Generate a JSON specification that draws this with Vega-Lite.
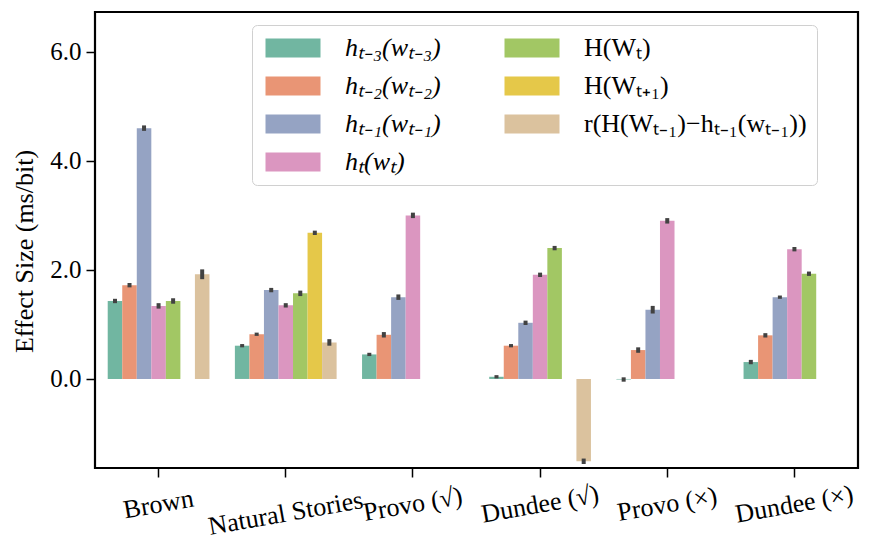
{
  "$schema": "https://vega.github.io/schema/vega-lite/v6.json",
  "width": 763,
  "height": 456,
  "autosize": {"type": "none"},
  "padding": {"left": 95, "top": 12, "right": 14, "bottom": 87},
  "config": {
    "font": "Liberation Serif",
    "view": {"stroke": "#000", "strokeWidth": 2.2},
    "axis": {
      "domain": false,
      "grid": false,
      "tickColor": "#000",
      "tickWidth": 1.5,
      "tickSize": 9,
      "labelColor": "#000",
      "labelFont": "Liberation Serif",
      "titleFont": "Liberation Serif",
      "titleColor": "#000",
      "titleFontWeight": "normal"
    }
  },
  "data": {
    "values": [
      {"corpus": "Brown", "pred": "hₜ₋₃(wₜ₋₃)", "value": 1.43, "lo": 1.39, "hi": 1.47},
      {"corpus": "Brown", "pred": "hₜ₋₂(wₜ₋₂)", "value": 1.72, "lo": 1.68, "hi": 1.76},
      {"corpus": "Brown", "pred": "hₜ₋₁(wₜ₋₁)", "value": 4.60, "lo": 4.55, "hi": 4.65},
      {"corpus": "Brown", "pred": "hₜ(wₜ)", "value": 1.34, "lo": 1.29, "hi": 1.39},
      {"corpus": "Brown", "pred": "H(Wₜ)", "value": 1.43, "lo": 1.38, "hi": 1.48},
      {"corpus": "Brown", "pred": "r(H(Wₜ₋₁)−hₜ₋₁(wₜ₋₁))", "value": 1.92, "lo": 1.83, "hi": 2.01},
      {"corpus": "Natural Stories", "pred": "hₜ₋₃(wₜ₋₃)", "value": 0.61, "lo": 0.58, "hi": 0.64},
      {"corpus": "Natural Stories", "pred": "hₜ₋₂(wₜ₋₂)", "value": 0.82, "lo": 0.79, "hi": 0.85},
      {"corpus": "Natural Stories", "pred": "hₜ₋₁(wₜ₋₁)", "value": 1.63, "lo": 1.59, "hi": 1.67},
      {"corpus": "Natural Stories", "pred": "hₜ(wₜ)", "value": 1.35, "lo": 1.31, "hi": 1.39},
      {"corpus": "Natural Stories", "pred": "H(Wₜ)", "value": 1.57, "lo": 1.52, "hi": 1.62},
      {"corpus": "Natural Stories", "pred": "H(Wₜ₊₁)", "value": 2.68, "lo": 2.64, "hi": 2.72},
      {"corpus": "Natural Stories", "pred": "r(H(Wₜ₋₁)−hₜ₋₁(wₜ₋₁))", "value": 0.67, "lo": 0.61, "hi": 0.73},
      {"corpus": "Provo (√)", "pred": "hₜ₋₃(wₜ₋₃)", "value": 0.45, "lo": 0.42, "hi": 0.48},
      {"corpus": "Provo (√)", "pred": "hₜ₋₂(wₜ₋₂)", "value": 0.81, "lo": 0.76, "hi": 0.86},
      {"corpus": "Provo (√)", "pred": "hₜ₋₁(wₜ₋₁)", "value": 1.50, "lo": 1.45, "hi": 1.55},
      {"corpus": "Provo (√)", "pred": "hₜ(wₜ)", "value": 3.00, "lo": 2.95, "hi": 3.05},
      {"corpus": "Dundee (√)", "pred": "hₜ₋₃(wₜ₋₃)", "value": 0.04, "lo": 0.01, "hi": 0.07},
      {"corpus": "Dundee (√)", "pred": "hₜ₋₂(wₜ₋₂)", "value": 0.61, "lo": 0.58, "hi": 0.64},
      {"corpus": "Dundee (√)", "pred": "hₜ₋₁(wₜ₋₁)", "value": 1.03, "lo": 0.99, "hi": 1.07},
      {"corpus": "Dundee (√)", "pred": "hₜ(wₜ)", "value": 1.91, "lo": 1.87, "hi": 1.95},
      {"corpus": "Dundee (√)", "pred": "H(Wₜ)", "value": 2.40, "lo": 2.36, "hi": 2.44},
      {"corpus": "Dundee (√)", "pred": "r(H(Wₜ₋₁)−hₜ₋₁(wₜ₋₁))", "value": -1.51, "lo": -1.56, "hi": -1.46},
      {"corpus": "Provo (×)", "pred": "hₜ₋₃(wₜ₋₃)", "value": -0.01, "lo": -0.05, "hi": 0.03},
      {"corpus": "Provo (×)", "pred": "hₜ₋₂(wₜ₋₂)", "value": 0.53, "lo": 0.48, "hi": 0.58},
      {"corpus": "Provo (×)", "pred": "hₜ₋₁(wₜ₋₁)", "value": 1.27, "lo": 1.20, "hi": 1.34},
      {"corpus": "Provo (×)", "pred": "hₜ(wₜ)", "value": 2.90, "lo": 2.85, "hi": 2.95},
      {"corpus": "Dundee (×)", "pred": "hₜ₋₃(wₜ₋₃)", "value": 0.31, "lo": 0.27, "hi": 0.35},
      {"corpus": "Dundee (×)", "pred": "hₜ₋₂(wₜ₋₂)", "value": 0.80, "lo": 0.76, "hi": 0.84},
      {"corpus": "Dundee (×)", "pred": "hₜ₋₁(wₜ₋₁)", "value": 1.50, "lo": 1.47, "hi": 1.53},
      {"corpus": "Dundee (×)", "pred": "hₜ(wₜ)", "value": 2.38, "lo": 2.34, "hi": 2.42},
      {"corpus": "Dundee (×)", "pred": "H(Wₜ)", "value": 1.93, "lo": 1.89, "hi": 1.97}
    ]
  },
  "encoding": {
    "x": {
      "field": "corpus",
      "type": "nominal",
      "sort": ["Brown", "Natural Stories", "Provo (√)", "Dundee (√)", "Provo (×)", "Dundee (×)"],
      "scale": {"paddingInner": 0.2, "paddingOuter": 0.1},
      "axis": {
        "title": null,
        "labelAngle": -10,
        "labelAlign": "center",
        "labelBaseline": "middle",
        "labelFontSize": 26,
        "labelPadding": {"condition": {"test": "datum.value == 'Natural Stories'", "value": 36}, "value": 27}
      }
    },
    "xOffset": {
      "field": "pred",
      "type": "nominal",
      "scale": {
        "domain": ["hₜ₋₃(wₜ₋₃)", "hₜ₋₂(wₜ₋₂)", "hₜ₋₁(wₜ₋₁)", "hₜ(wₜ)", "H(Wₜ)", "H(Wₜ₊₁)", "r(H(Wₜ₋₁)−hₜ₋₁(wₜ₋₁))"],
        "paddingInner": 0,
        "paddingOuter": 0
      }
    }
  },
  "layer": [
    {
      "mark": {"type": "bar"},
      "encoding": {
        "y": {
          "field": "value",
          "type": "quantitative",
          "scale": {"domain": [-1.633, 6.73], "nice": false, "zero": false},
          "axis": {
            "title": "Effect Size (ms/bit)",
            "values": [0, 2, 4, 6],
            "format": ".1f",
            "labelFontSize": 25,
            "titleFontSize": 26,
            "labelPadding": 5,
            "titlePadding": 12,
            "titleY": 239
          }
        },
        "color": {
          "field": "pred",
          "type": "nominal",
          "scale": {
            "domain": ["hₜ₋₃(wₜ₋₃)", "hₜ₋₂(wₜ₋₂)", "hₜ₋₁(wₜ₋₁)", "hₜ(wₜ)", "H(Wₜ)", "H(Wₜ₊₁)", "r(H(Wₜ₋₁)−hₜ₋₁(wₜ₋₁))"],
            "range": ["#71b6a1", "#e99575", "#95a3c3", "#db96c0", "#a2c764", "#e5c849", "#dbc29e"]
          },
          "legend": {
            "title": null,
            "orient": "none",
            "legendX": 157,
            "legendY": 13,
            "columns": 2,
            "symbolType": "M-1,-1h5.79v2h-5.79z",
            "symbolSize": 361,
            "symbolStrokeWidth": 0,
            "symbolOpacity": 1,
            "labelFontSize": 26,
            "labelColor": "#000",
            "labelOffset": 57,
            "labelLimit": 400,
            "rowPadding": 12,
            "columnPadding": 60,
            "padding": 10,
            "fillColor": "rgba(255,255,255,0.85)",
            "strokeColor": "#d0d0d0",
            "cornerRadius": 5,
            "encode": {
              "labels": {
                "update": {
                  "fontStyle": {"signal": "indexof(datum.label, 'h') === 0 ? 'italic' : 'normal'"}
                }
              }
            }
          }
        }
      }
    },
    {
      "mark": {"type": "rule", "strokeWidth": 4, "color": "#424242"},
      "encoding": {
        "y": {"field": "lo", "type": "quantitative", "axis": {"title": "Effect Size (ms/bit)"}},
        "y2": {"field": "hi"}
      }
    }
  ]
}
